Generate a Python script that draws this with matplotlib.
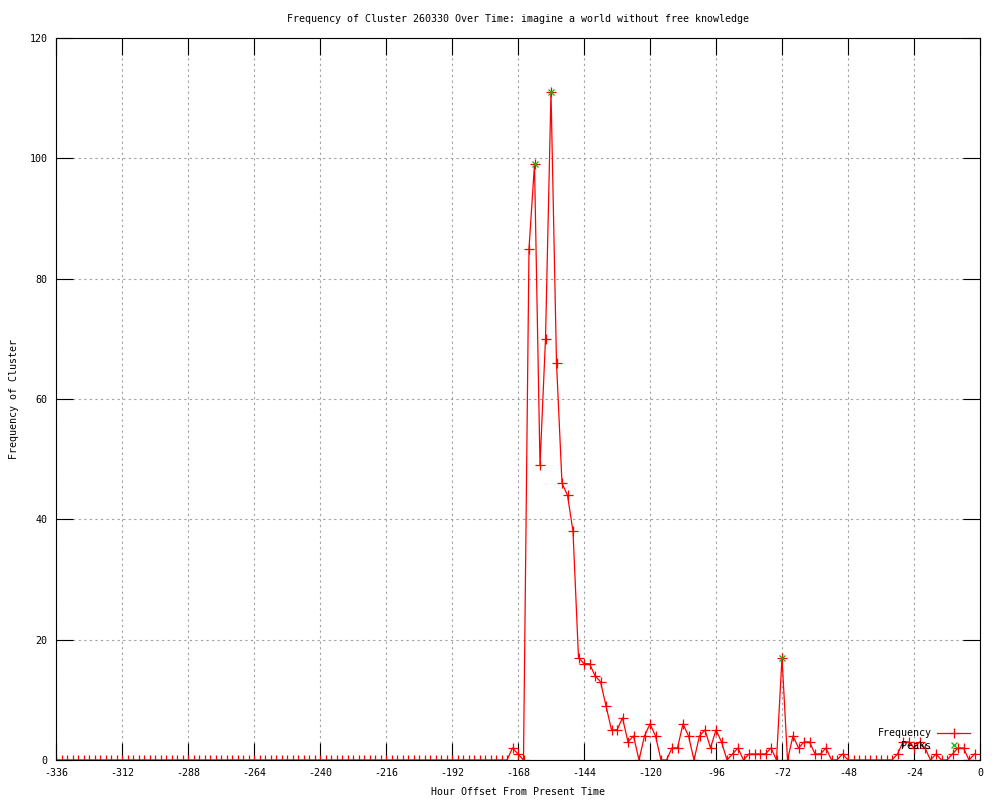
import numpy as np
import matplotlib
matplotlib.use('Agg')
from matplotlib import pyplot as plt

plt.rcParams['font.family'] = ['DejaVu Sans Mono']
plt.rcParams['axes.unicode_minus'] = False

# hours before now, one sample every 2 hours
hours = np.arange(-336, 0, 2)

# frequency per 2-hour bin (-336 ... -2)
frequency = [
    0, 0, 0, 0, 0, 0, 0, 0, 0, 0, 0, 0, 0, 0, 0, 0, 0, 0, 0, 0,   # -336 .. -298
    0, 0, 0, 0, 0, 0, 0, 0, 0, 0, 0, 0, 0, 0, 0, 0, 0, 0, 0, 0,   # -296 .. -258
    0, 0, 0, 0, 0, 0, 0, 0, 0, 0, 0, 0, 0, 0, 0, 0, 0, 0, 0, 0,   # -256 .. -218
    0, 0, 0, 0, 0, 0, 0, 0, 0, 0, 0, 0, 0, 0, 0, 0, 0, 0, 0, 0,   # -216 .. -178
    0, 0, 0,                                                      # -176 .. -172
    2, 1, 0, 85, 99, 49, 70, 111, 66, 46, 44, 38, 17, 16, 16,     # -170 .. -142
    14, 13, 9, 5, 5, 7, 3, 4, 0, 4, 6, 4, 0, 0, 2,                # -140 .. -112
    2, 6, 4, 0, 4, 5, 2, 5, 3, 0, 1, 2, 0, 1, 1,                  # -110 .. -82
    1, 1, 2, 0, 17, 0, 4, 2, 3, 3, 1, 1, 2, 0, 0,                 # -80 .. -52
    1, 0, 0, 0, 0, 0, 0, 0, 0, 0, 1, 3, 3, 2, 3,                  # -50 .. -22
    2, 0, 1, 0, 0, 1, 2, 2, 0, 1,                                 # -20 .. -2
]

peak_hours = [-162, -156, -72]
peak_values = [99, 111, 17]

fig = plt.figure(figsize=(10, 8), dpi=100)
ax = fig.add_axes([0.056, 0.05, 0.924, 0.9025])

ax.plot(hours, frequency, color='red', linewidth=0.9, marker='+',
        markersize=6.5, markeredgewidth=0.9, label='Frequency')
ax.plot(peak_hours, peak_values, linestyle='none', color='#00c000', marker='x',
        markersize=5, markeredgewidth=0.9, label='Peaks')

ax.set_xlim(-336, 0)
ax.set_ylim(0, 120)
ax.set_xticks(np.arange(-336, 1, 24))
ax.set_yticks(np.arange(0, 121, 20))

ax.tick_params(direction='in', length=12, width=0.8, top=True, right=True,
               labelsize=7.2, pad=6, colors='black')
ax.grid(True, color='#a0a0a0', linestyle=(0, (2, 3)), linewidth=0.8)
for s in ax.spines.values():
    s.set_linewidth(0.8)

ax.set_title('Frequency of Cluster 260330 Over Time: imagine a world without free knowledge',
             fontsize=7.2, pad=11.5)
ax.set_xlabel('Hour Offset From Present Time', fontsize=7.2, labelpad=6)
ax.set_ylabel('Frequency of Cluster', fontsize=7.2, labelpad=8)

ax.legend(loc='lower right', bbox_to_anchor=(1.0026, -0.004), frameon=False,
          markerfirst=False, fontsize=7.2, handlelength=3.3,
          labelspacing=0.25, handletextpad=0.6, borderaxespad=0.8)

plt.savefig('out.png', dpi=100)
